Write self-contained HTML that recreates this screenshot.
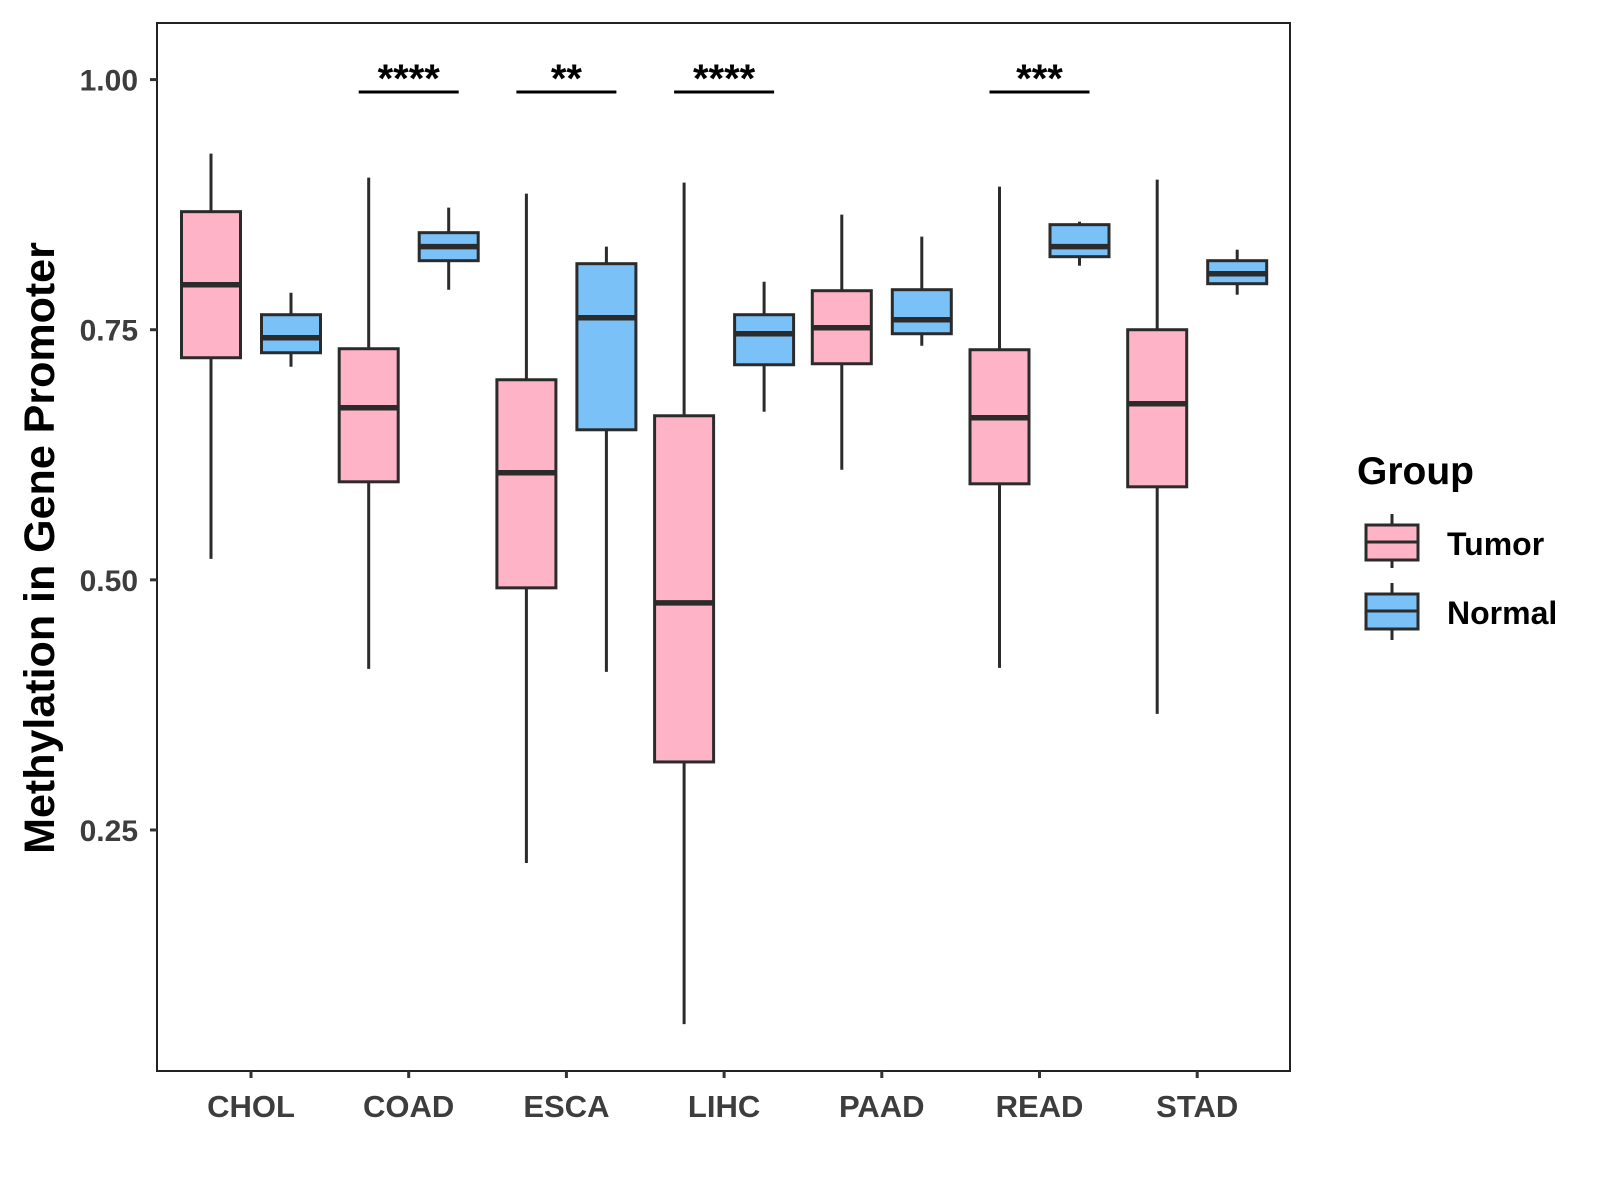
<!DOCTYPE html>
<html><head><meta charset="utf-8"><style>
body{margin:0;background:#fff}
svg{display:block}
text{font-family:"Liberation Sans",Arial,sans-serif;font-weight:bold}
</style></head><body>
<svg id="chart" width="1600" height="1200" viewBox="0 0 1600 1200">
<rect x="157" y="23" width="1133" height="1048" fill="#fff" stroke="#222" stroke-width="2"/>
<g id="marks"></g>
<text transform="translate(54,548) rotate(-90)" text-anchor="middle" font-size="43" fill="#000">Methylation in Gene Promoter</text>
<g>
<text x="1357" y="484" font-size="39" fill="#000">Group</text>
<g>
<line x1="1392" x2="1392" y1="514" y2="568" stroke="#2b2b2b" stroke-width="3"/>
<rect x="1366" y="525" width="52" height="35" fill="#FFB3C6" stroke="#2b2b2b" stroke-width="3"/>
<line x1="1366" x2="1418" y1="542" y2="542" stroke="#2b2b2b" stroke-width="3"/>
<text x="1447" y="555" font-size="32" fill="#000">Tumor</text></g>
<g>
<line x1="1392" x2="1392" y1="583" y2="640" stroke="#2b2b2b" stroke-width="3"/>
<rect x="1366" y="594" width="52" height="35" fill="#7AC1F7" stroke="#2b2b2b" stroke-width="3"/>
<line x1="1366" x2="1418" y1="611" y2="611" stroke="#2b2b2b" stroke-width="3"/>
<text x="1447" y="624" font-size="32" fill="#000">Normal</text></g>
</g>
</svg>
<script>
const categories=["CHOL","COAD","ESCA","LIHC","PAAD","READ","STAD"];
const tumorMin=[0.521,0.411,0.217,0.056,0.610,0.412,0.366];
const tumorQ1=[0.722,0.598,0.492,0.318,0.716,0.596,0.593];
const tumorMed=[0.795,0.672,0.607,0.477,0.752,0.662,0.676];
const tumorQ3=[0.868,0.731,0.700,0.664,0.789,0.730,0.750];
const tumorMax=[0.926,0.902,0.886,0.897,0.865,0.893,0.900];
const normalMin=[0.713,0.790,0.408,0.668,0.734,0.814,0.785];
const normalQ1=[0.727,0.819,0.650,0.715,0.746,0.823,0.796];
const normalMed=[0.742,0.833,0.762,0.746,0.760,0.833,0.806];
const normalQ3=[0.765,0.847,0.816,0.765,0.790,0.855,0.819];
const normalMax=[0.787,0.872,0.833,0.798,0.843,0.858,0.830];
const sigLabels=["","****","**","****","","***",""];
const yTicks=[0.25,0.5,0.75,1.0];
const yTickLabels=["0.25","0.50","0.75","1.00"];
const NS="http://www.w3.org/2000/svg";
const g=document.getElementById('marks');
function y(v){return 79.6+(1-v)*1000.5;}
function x(i){return 251+i*157.7;}
function mk(tag,a,parent){const e=document.createElementNS(NS,tag);for(const k in a)e.setAttribute(k,a[k]);(parent||g).appendChild(e);return e;}
yTicks.forEach((v,i)=>{
 const t=mk('line',{x1:150,x2:157,y1:y(v),y2:y(v),stroke:'#333','stroke-width':3});
 
 
 const l=mk('text',{x:138,y:y(v)+11,'text-anchor':'end','font-size':30,fill:'#3d3d3d'});
 l.textContent=yTickLabels[i];
 
 
});
categories.forEach((c,i)=>{
 const t=mk('line',{x1:x(i),x2:x(i),y1:1071,y2:1078,stroke:'#333','stroke-width':3});
 
 
 const l=mk('text',{x:x(i),y:1117,'text-anchor':'middle','font-size':31,fill:'#3d3d3d'});
 l.textContent=c;
 
 
});
function box(cx,mn,q1,md,q3,mx,fill,name){
 const grp=mk('g',{});
 
 
 mk('line',{x1:cx,x2:cx,y1:y(mx),y2:y(mn),stroke:'#2b2b2b','stroke-width':3},grp);
 mk('rect',{x:cx-29.5,y:y(q3),width:59,height:y(q1)-y(q3),fill:fill,stroke:'#2b2b2b','stroke-width':3},grp);
 mk('line',{x1:cx-29.5,x2:cx+29.5,y1:y(md),y2:y(md),stroke:'#2b2b2b','stroke-width':5.5},grp);
}
categories.forEach((c,i)=>{
 box(x(i)-40,tumorMin[i],tumorQ1[i],tumorMed[i],tumorQ3[i],tumorMax[i],'#FFB3C6','box-tumor-'+c.toLowerCase());
 box(x(i)+40,normalMin[i],normalQ1[i],normalMed[i],normalQ3[i],normalMax[i],'#7AC1F7','box-normal-'+c.toLowerCase());
 if(sigLabels[i]){
  const b=mk('line',{x1:x(i)-50,x2:x(i)+50,y1:92,y2:92,stroke:'#000','stroke-width':3});
  
  
  const s=mk('text',{x:x(i),y:92,'text-anchor':'middle','font-size':40,fill:'#000'});
  s.textContent=sigLabels[i];
  
  
 }
});
</script>
</body></html>
